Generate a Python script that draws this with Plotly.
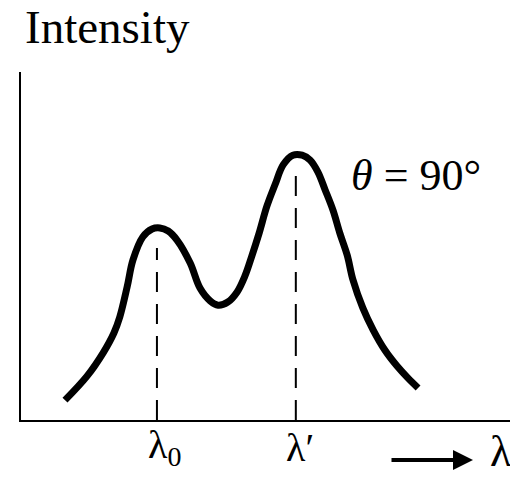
import plotly.graph_objects as go

# Curve (arbitrary units: wavelength 0-100, intensity 0-100)
wavelength = [9.0, 13.5, 16.8, 19.0, 20.2, 21.7, 22.9, 24.9, 26.8, 28.4, 30.1, 31.9,
              34.6, 36.6, 38.7, 40.3, 42.3, 44.2, 45.8, 47.2, 48.7, 50.3, 52.0, 53.6,
              55.6, 57.5, 59.1, 60.7, 62.2, 63.8, 65.2, 66.7, 67.9, 69.9, 72.0, 74.4,
              76.9, 79.1, 81.2]
intensity = [5.7, 12.6, 19.3, 25.0, 29.6, 38.2, 46.0, 52.6, 54.9, 55.2, 54.3, 51.7,
             45.1, 37.9, 34.2, 33.0, 33.9, 36.8, 41.4, 47.1, 53.7, 61.5, 67.8, 73.3,
             76.1, 76.1, 74.7, 71.3, 66.1, 60.3, 53.7, 47.4, 40.2, 32.2, 25.9, 20.1,
             15.5, 12.1, 9.2]

# Peak marker lines (dashed) and their labels
peak_x = [27.8, 56.2]
peak_top = [49.4, 71.0]
tick_labels = ["λ<sub>0</sub>", "λ′"]
label_shift = [8, 4]

SERIF = "Liberation Serif, Times New Roman, serif"

fig = go.Figure()

for px, pt in zip(peak_x, peak_top):
    fig.add_trace(go.Scatter(x=[px, px], y=[0, pt], mode="lines",
                             line=dict(color="black", width=2, dash="20px,12px"),
                             hoverinfo="skip", showlegend=False))

fig.add_trace(go.Scatter(x=wavelength, y=intensity, mode="lines",
                         line=dict(color="black", width=7, shape="spline", smoothing=1.0),
                         showlegend=False))

for px, lab, sh in zip(peak_x, tick_labels, label_shift):
    fig.add_annotation(text=lab, xref="x", yref="paper", x=px, y=(420 - 447) / 348,
                       xanchor="center", yanchor="middle", xshift=sh, showarrow=False,
                       font=dict(family=SERIF, size=40, color="black"))

fig.add_annotation(text="Intensity", xref="paper", yref="paper", x=(23 - 21) / 489, y=1.13,
                   xanchor="left", yanchor="middle", showarrow=False,
                   font=dict(family=SERIF, size=47, color="black"))
fig.add_annotation(text="<i>θ</i> = 90°", xref="x", yref="y", x=80.8, y=70.4,
                   xanchor="center", yanchor="middle", showarrow=False,
                   font=dict(family=SERIF, size=44, color="black"))
# arrow toward lambda
fig.add_annotation(x=(473 - 21) / 489, y=(420 - 460) / 348, ax=-83, ay=0,
                   xref="paper", yref="paper", axref="pixel", ayref="pixel",
                   showarrow=True, arrowhead=2, arrowsize=1.0, arrowwidth=4, arrowcolor="black", text="")
fig.add_annotation(text="λ", xref="paper", yref="paper", x=(488 - 21) / 489, y=(420 - 452) / 348,
                   xanchor="left", yanchor="middle", showarrow=False,
                   font=dict(family=SERIF, size=44, color="black"))

fig.update_layout(
    width=510, height=491,
    margin=dict(l=21, r=0, t=72, b=71),
    paper_bgcolor="white", plot_bgcolor="white",
    xaxis=dict(range=[0, 100], showgrid=False, zeroline=False, showline=True,
               linecolor="black", linewidth=2, ticks="", showticklabels=False),
    yaxis=dict(range=[0, 100], showgrid=False, zeroline=False, showline=True,
               linecolor="black", linewidth=2, showticklabels=False, ticks=""),
)

fig.write_html("out.html")
